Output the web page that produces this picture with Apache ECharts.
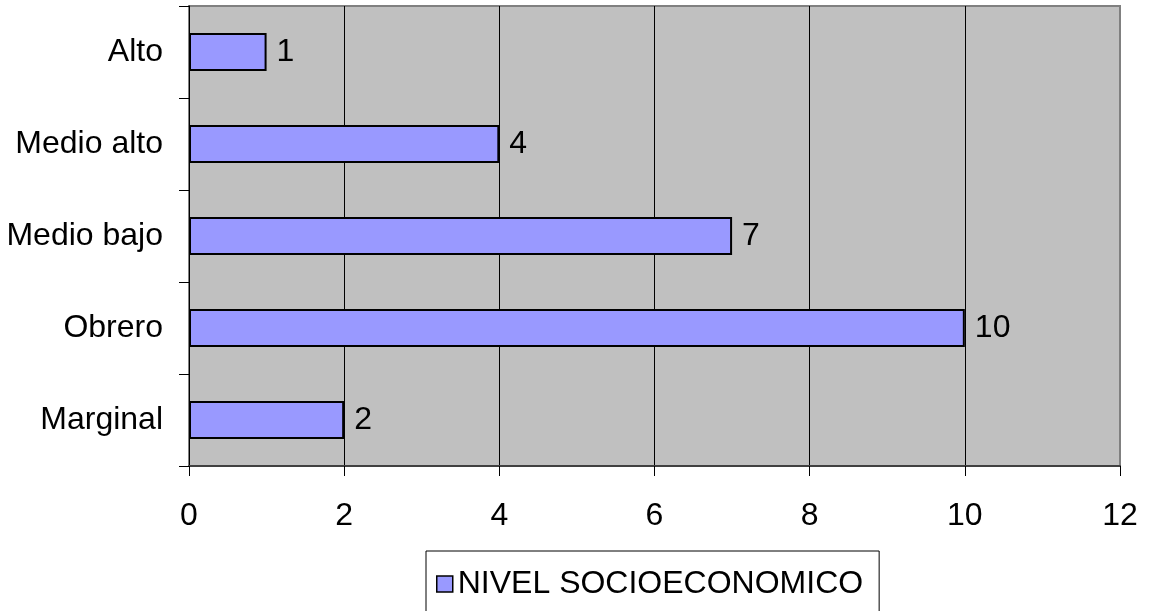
<!DOCTYPE html>
<html>
<head>
<meta charset="utf-8">
<script src="https://cdn.jsdelivr.net/npm/echarts@6/dist/echarts.min.js"></script>
<style>
  html, body { margin: 0; padding: 0; background: #ffffff; }
  #chart { width: 1149px; height: 611px; }
</style>
</head>
<body>
<div id="chart"></div>
<script>
// Socioeconomic level counts (categories listed bottom to top)
const categories = ['Marginal', 'Obrero', 'Medio bajo', 'Medio alto', 'Alto'];
const values = [2, 10, 7, 4, 1];
const seriesName = 'NIVEL SOCIOECONOMICO';
const xTicks = [0, 2, 4, 6, 8, 10, 12];

const FONT = "'Liberation Sans', Arial, sans-serif";
const FS = 32;
const chart = echarts.init(document.getElementById('chart'), null, { renderer: 'canvas' });

// vertical grid lines: black, the last one sits on the grey frame
const gridLineColors = xTicks.map((t, i) => i === xTicks.length - 1 ? '#808080' : '#000000');

chart.setOption({
  animation: false,
  backgroundColor: '#ffffff',
  textStyle: { fontFamily: FONT },
  grid: {
    left: 189, right: 29, top: 6, bottom: 145,
    show: true,
    backgroundColor: '#C0C0C0',
    borderColor: '#808080',
    borderWidth: 2
  },
  legend: {
    left: 426,
    top: 551,
    orient: 'horizontal',
    backgroundColor: '#ffffff',
    borderColor: '#000000',
    borderWidth: 1,
    borderRadius: 0,
    padding: [17, 16, 40, 10],
    itemWidth: 16,
    itemHeight: 16,
    itemGap: 0,
    textStyle: { fontSize: FS, color: '#000000', fontFamily: FONT, padding: [0, 0, 0, 0] },
    data: [{ name: seriesName, icon: 'rect', itemStyle: { borderColor: '#000000', borderWidth: 1.5 } }]
  },
  xAxis: {
    type: 'value',
    min: xTicks[0],
    max: xTicks[xTicks.length - 1],
    interval: 2,
    axisLine: { show: true, lineStyle: { color: '#404040', width: 2 } },
    axisTick: { show: true, length: 10, lineStyle: { color: '#000000', width: 1 } },
    axisLabel: { fontSize: FS, color: '#000000', margin: 34, fontFamily: FONT },
    splitLine: { show: true, lineStyle: { color: gridLineColors, width: 1 } }
  },
  yAxis: {
    type: 'category',
    data: categories,
    axisLine: { show: true, lineStyle: { color: '#000000', width: 1 } },
    axisTick: { show: true, length: 10, lineStyle: { color: '#000000', width: 1 } },
    axisLabel: { fontSize: FS, color: '#000000', margin: 26, fontFamily: FONT },
    splitLine: { show: false }
  },
  series: [{
    name: seriesName,
    type: 'bar',
    data: values,
    barWidth: 38,
    itemStyle: { color: '#9999FF', borderColor: '#000000', borderWidth: 2 },
    label: {
      show: true,
      position: 'right',
      distance: 10,
      fontSize: FS,
      color: '#000000',
      fontFamily: FONT
    }
  }]
});
</script>
</body>
</html>
